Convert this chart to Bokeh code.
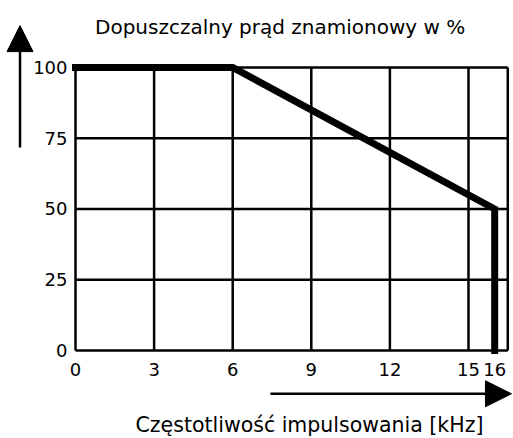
from bokeh.plotting import figure
from bokeh.models import Label, Arrow, NormalHead, Range1d
from bokeh.core.properties import value
from bokeh.embed import file_html
from bokeh.resources import INLINE

# ---- data ----
freq_khz = [0, 6, 16, 16]
current_pct = [100, 100, 50, 0]
x_ticks = [0, 3, 6, 9, 12, 15, 16]
x_tick_labels = ["0", "3", "6", "9", "12", "15", "16"]
y_ticks = [0, 25, 50, 75, 100]
y_tick_labels = ["0", "25", "50", "75", "100"]
x_grid = [0, 3, 6, 9, 12, 15, 16.5]
y_grid = [0, 25, 50, 75, 100]
title_text = "Dopuszczalny prąd znamionowy w %"
xlabel_text = "Częstotliwość impulsowania [kHz]"

FONT = "DejaVu Sans"
FS = "18px"

p = figure(width=513, height=438, output_backend="svg", toolbar_location=None,
           x_range=Range1d(-2.863, 16.718), y_range=Range1d(-31.10, 123.67),
           x_axis_type=None, y_axis_type=None, min_border=0, title=None)
p.outline_line_color = None
p.background_fill_color = "white"
p.border_fill_color = "white"

# grid drawn only over the chart area
nx, ny = len(x_grid), len(y_grid)
p.segment(x0=x_grid, y0=[min(y_grid)] * nx, x1=x_grid, y1=[max(y_grid)] * nx,
          line_color="black", line_width=2.5)
p.segment(x0=[min(x_grid)] * ny, y0=y_grid, x1=[max(x_grid)] * ny, y1=y_grid,
          line_color="black", line_width=2.5)

# derating curve
p.line(freq_khz, current_pct, line_color="black", line_width=7,
       line_join="miter", line_cap="square")

# tick labels
p.text(x=[min(x_grid)] * len(y_ticks), y=y_ticks, text=y_tick_labels,
       x_offset=-8, text_align="right", text_baseline="middle",
       text_font=value(FONT), text_font_size=FS, text_color="black")
p.text(x=x_ticks, y=[min(y_grid)] * len(x_ticks), text=x_tick_labels,
       y_offset=13, text_align="center", text_baseline="top",
       text_font=value(FONT), text_font_size=FS, text_color="black")

# axis arrows
p.add_layout(Arrow(end=NormalHead(size=26, fill_color="black", line_color="black"),
                   x_start=-2.118, y_start=71.7, x_end=-2.118, y_end=114.8,
                   line_color="black", line_width=2.5))
p.add_layout(Arrow(end=NormalHead(size=26, fill_color="black", line_color="black"),
                   x_start=7.44, y_start=-15.3, x_end=16.64, y_end=-15.3,
                   line_color="black", line_width=2.5))

# texts
p.add_layout(Label(x=7.81, y=114.13, text=title_text, text_align="center",
                   text_baseline="alphabetic", text_font=FONT,
                   text_font_size="20px", text_color="black"))
p.add_layout(Label(x=8.93, y=-26.5, text=xlabel_text, text_align="center",
                   text_baseline="alphabetic", text_font=FONT,
                   text_font_size="20.5px", text_color="black"))

open("out.html", "w").write(file_html(p, INLINE))
